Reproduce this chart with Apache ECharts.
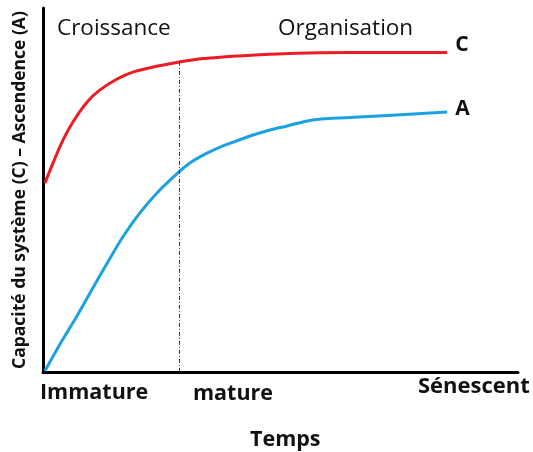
<!DOCTYPE html>
<html>
<head>
<meta charset="utf-8">
<script src="https://cdn.jsdelivr.net/npm/echarts@6/dist/echarts.min.js"></script>
<style>
  html, body { margin: 0; padding: 0; background: #fff; }
  #container { width: 533px; height: 452px; }
</style>
</head>
<body>
<div id="container"></div>
<script>
var dom = document.getElementById("container");
var myChart = echarts.init(dom);

// valeurs (temps 0-100, capacité 0-100)
var capaciteX = [0.4, 2.1, 4.2, 6.3, 9.3, 12.0, 15.6, 18.9, 23.2, 28.4, 30.9, 33.7, 37.3, 40.8, 47.8, 58.3, 70.9, 85.1];
var capaciteY = [51.9, 57.4, 63.7, 68.7, 74.2, 77.5, 80.5, 82.4, 83.8, 85.1, 85.6, 86.1, 86.5, 86.8, 87.3, 87.7, 87.8, 87.8];
var ascendenceX = [0.4, 3.6, 6.3, 9.9, 13.5, 16.8, 20.4, 24.0, 28.4, 30.9, 33.7, 37.3, 40.8, 44.2, 47.8, 51.4, 54.7, 57.7, 64.6, 85.1];
var ascendenceY = [0.3, 7.7, 13.5, 21.7, 29.9, 37.1, 43.7, 49.2, 54.7, 57.4, 59.6, 61.8, 63.5, 65.1, 66.5, 67.6, 68.7, 69.4, 69.9, 71.4];
var seuilMature = 28.6;
var seuilHaut = 85.2;

function pairs(xs, ys) {
    var out = [];
    for (var i = 0; i < xs.length; i++) {
        out.push([xs[i], ys[i]]);
    }
    return out;
}

var font = '"Open Sans", "Noto Sans", sans-serif';

function label(txt, x, y, weight, size) {
    return {
        type: 'text',
        x: x,
        y: y,
        style: {
            text: txt,
            font: weight + ' ' + size + 'px ' + font,
            fill: '#111',
            align: 'left',
            verticalAlign: 'middle'
        }
    };
}

var option = {
    animation: false,
    grid: {
        left: 43,
        right: 15,
        top: 8,
        bottom: 80
    },
    xAxis: {
        type: 'value',
        min: 0,
        max: 100,
        axisLine: { lineStyle: { color: '#000', width: 3 } },
        axisTick: { show: false },
        axisLabel: { show: false },
        splitLine: { show: false }
    },
    yAxis: {
        type: 'value',
        min: 0,
        max: 100,
        axisLine: { show: true, lineStyle: { color: '#000', width: 3 } },
        axisTick: { show: false },
        axisLabel: { show: false },
        splitLine: { show: false }
    },
    graphic: [
        label('Croissance', 57, 29, 'normal', 22.5),
        label('Organisation', 278, 29, 'normal', 22.5),
        label('Immature', 40, 393, 'bold', 21.5),
        label('mature', 193, 394, 'bold', 21.5),
        label('Sénescent', 418, 387, 'bold', 22),
        label('Temps', 250, 440, 'bold', 21.5),
        {
            type: 'text',
            x: 11, y: 369,
            rotation: Math.PI / 2,
            style: {
                text: 'Capacité du système (C) – Ascendence (A)',
                font: 'bold 17.5px ' + font,
                fill: '#111',
                align: 'left',
                verticalAlign: 'top'
            }
        }
    ],
    series: [
        {
            name: 'C',
            type: 'line',
            smooth: 0.3,
            symbol: 'none',
            data: pairs(capaciteX, capaciteY),
            lineStyle: { color: '#ed1c24', width: 3 },
            endLabel: {
                show: true,
                formatter: '{a}',
                fontFamily: font,
                fontWeight: 'bold',
                fontSize: 21,
                color: '#111',
                distance: 8,
                offset: [0, -7]
            },
            markLine: {
                silent: true,
                symbol: 'none',
                label: { show: false },
                lineStyle: { color: '#333', type: [4, 2, 1, 2], width: 1 },
                data: [[
                    { coord: [seuilMature, seuilHaut] },
                    { coord: [seuilMature, 0] }
                ]]
            }
        },
        {
            name: 'A',
            type: 'line',
            smooth: 0.3,
            symbol: 'none',
            data: pairs(ascendenceX, ascendenceY),
            lineStyle: { color: '#1ba1e2', width: 3 },
            endLabel: {
                show: true,
                formatter: '{a}',
                fontFamily: font,
                fontWeight: 'bold',
                fontSize: 21,
                color: '#111',
                distance: 8,
                offset: [0, -3]
            }
        }
    ]
};

myChart.setOption(option);
</script>
</body>
</html>
